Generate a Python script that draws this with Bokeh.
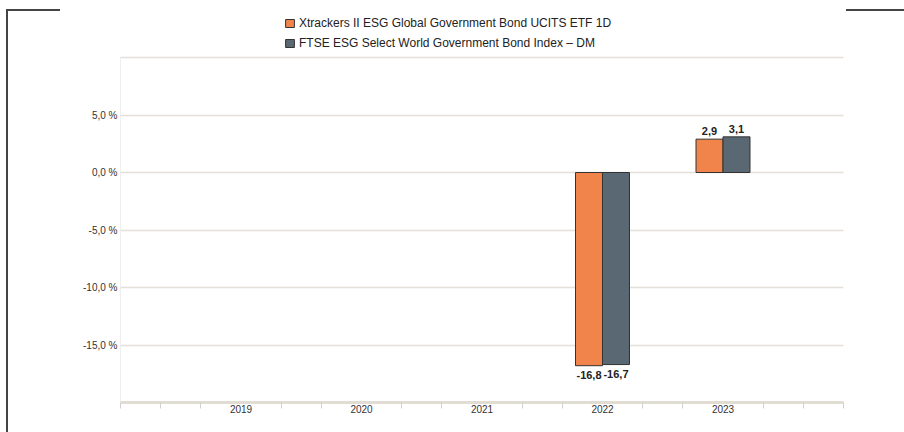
from bokeh.plotting import figure
from bokeh.models import Range1d, FixedTicker, Legend, LegendItem, ColumnDataSource
from bokeh.transform import dodge
from bokeh.embed import file_html
from bokeh.resources import INLINE
from bokeh.core.properties import value

# ---------------- data ----------------
years = [2019, 2020, 2021, 2022, 2023]
fund_values = [None, None, None, -16.8, 2.9]
index_values = [None, None, None, -16.7, 3.1]
fund_name = "Xtrackers II ESG Global Government Bond UCITS ETF 1D"
index_name = "FTSE ESG Select World Government Bond Index – DM"
y_ticks = [-15, -10, -5, 0, 5, 10]
y_tick_labels = ["-15,0 %", "-10,0 %", "-5,0 %", "0,0 %", "5,0 %", ""]
x_start, x_end = 2018, 2024
y_start, y_end = -20, 10

FONT = "Liberation Sans"
ORANGE = "#f0844a"
GREY = "#5a6873"

# layout (pixels)
W, H = 904, 432
LEFT, RIGHT, BOTTOM = 120, 61, 30
GRID_TOP = 57                       # pixel row of the top gridline
plot_px = H - BOTTOM - GRID_TOP     # pixels spanned by y_start..y_end
y_top = y_end + GRID_TOP * (y_end - y_start) / plot_px   # frame extends up to hold legend


def fmt(v):
    return f"{v:.1f}".replace(".", ",")


def make_source(vals):
    ys = [y for y, v in zip(years, vals) if v is not None]
    vs = [v for v in vals if v is not None]
    return ColumnDataSource(dict(
        year=ys,
        val=vs,
        label=[fmt(v) for v in vs],
        baseline=["top" if v < 0 else "alphabetic" for v in vs],
        yoff=[5 if v < 0 else -8 for v in vs],
    ))


src_fund = make_source(fund_values)
src_index = make_source(index_values)

p = figure(
    width=W, height=H,
    x_range=Range1d(x_start, x_end), y_range=Range1d(y_start, y_top),
    output_backend="svg", toolbar_location=None,
    min_border_left=LEFT, min_border_right=RIGHT, min_border_top=0, min_border_bottom=BOTTOM,
)
p.border_fill_color = None
p.background_fill_color = None
p.outline_line_color = None

# page border lines and faint left plot edge (decoration)
p.styles = {
    "background-image": ", ".join(["linear-gradient(#444,#444)"] * 3 + ["linear-gradient(#eeeeee,#eeeeee)"]),
    "background-size": f"2px 423px, 54px 2px, 58px 2px, 1px {plot_px}px",
    "background-position": f"6px 9px, 6px 9px, 846px 9px, {LEFT}px {GRID_TOP}px",
    "background-repeat": "no-repeat",
}

bw = 0.224
off = bw / 2
r1 = p.vbar(x=dodge("year", -off, range=p.x_range), top="val", bottom=0, width=bw,
            source=src_fund, fill_color=ORANGE, line_color="#333333", line_width=1)
r2 = p.vbar(x=dodge("year", off, range=p.x_range), top="val", bottom=0, width=bw,
            source=src_index, fill_color=GREY, line_color="#333333", line_width=1)

for src, o in ((src_fund, -off), (src_index, off)):
    p.text(x=dodge("year", o, range=p.x_range), y="val", text="label", source=src,
           text_align="center", text_baseline="baseline", y_offset="yoff",
           text_font=value(FONT), text_font_size="11px", text_font_style="bold",
           text_color="#222222")

# axes
minor = [x_start + k / 3 for k in range(19) if k % 3 != 0 or k in (0, 18)]
p.xaxis.ticker = FixedTicker(ticks=years, minor_ticks=minor)
p.xaxis.major_tick_out = 0
p.xaxis.major_tick_in = 0
p.xaxis.minor_tick_out = 6
p.xaxis.minor_tick_in = 0
p.xaxis.minor_tick_line_color = "#d0d0d0"
p.xaxis.axis_line_color = "#e1ddd3"
p.xaxis.axis_line_width = 3
p.xaxis.major_label_standoff = -4
p.xaxis.major_label_text_font = FONT
p.xaxis.major_label_text_font_size = "10px"
p.xaxis.major_label_text_color = "#333333"

p.yaxis.ticker = FixedTicker(ticks=y_ticks)
p.yaxis.major_label_overrides = {t: l for t, l in zip(y_ticks, y_tick_labels)}
p.yaxis.major_tick_out = 0
p.yaxis.major_tick_in = 0
p.yaxis.minor_tick_line_color = None
p.yaxis.axis_line_color = None
p.yaxis.major_label_standoff = 3
p.yaxis.major_label_text_font = FONT
p.yaxis.major_label_text_font_size = "10px"
p.yaxis.major_label_text_color = "#333333"

p.xgrid.grid_line_color = None
p.ygrid.grid_line_color = "#e3e0da"
p.ygrid.grid_line_width = 1.5

legend = Legend(
    items=[LegendItem(label=fund_name, renderers=[r1]),
           LegendItem(label=index_name, renderers=[r2])],
    location=(164, 352), orientation="vertical",
    glyph_width=11, glyph_height=10, label_height=14, spacing=6,
    label_standoff=4, padding=0, margin=0,
    border_line_color=None, background_fill_alpha=0,
    label_text_font=FONT, label_text_font_size="12px", label_text_color="#222222",
)
p.add_layout(legend)

open("out.html", "w").write(file_html(p, INLINE))
